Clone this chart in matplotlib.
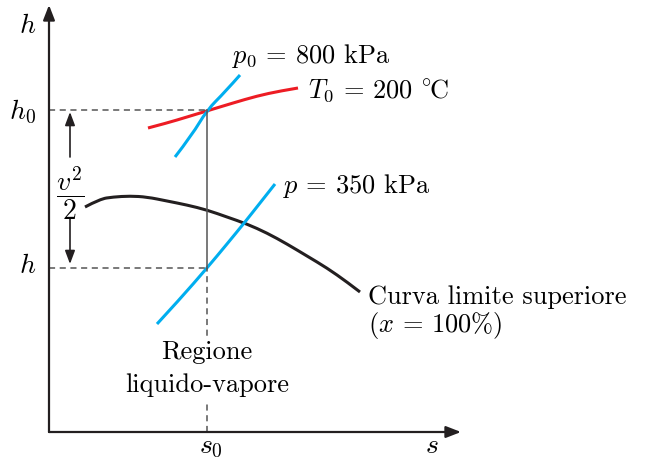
import matplotlib
matplotlib.use("Agg")
import matplotlib.pyplot as plt
from matplotlib.path import Path
from matplotlib.patches import PathPatch

plt.rcParams['font.family'] = ['cmr10', 'DejaVu Serif']
plt.rcParams['mathtext.fontset'] = 'cm'
plt.rcParams['axes.unicode_minus'] = False

# ---- data (schematic h-s diagram, arbitrary units) ----
s0 = 158          # entropy of the state
h0 = 322          # stagnation enthalpy
h1 = 164          # static enthalpy

# saturated vapour line (x = 100%)
sat_s = [36, 51, 64, 81, 98, 118, 138, 158, 178, 198, 218, 238, 258, 278, 298, 311]
sat_h = [225, 233, 235, 236, 235, 231, 227, 222, 215, 208, 199, 188, 176, 164, 150, 140]

# isotherm T0 = 200 °C
t0_s = [99, 118, 138, 161, 184, 208, 231, 249]
t0_h = [304, 309, 315, 322, 329, 336, 341, 344]

# isobar p0 = 800 kPa
p0_s = [126, 143, 158, 176, 191]
p0_h = [275, 297, 322, 340, 357]

# isobar p = 350 kPa
p_s = [108, 131, 158, 178, 196, 211, 226]
p_h = [108, 133, 164, 188, 210, 229, 248]

s_max = 412
h_max = 427

BLUE = '#00aeef'
RED = '#ed1c24'
BLACK = '#231f20'
GRAY = '#555555'
FS = 19


def smooth_curve(ax, xs, ys, **kw):
    """Draw a smooth quadratic-Bezier path guided by the data points."""
    pts = list(zip(xs, ys))
    verts = [pts[0]]
    codes = [Path.MOVETO]
    for i in range(1, len(pts) - 1):
        mid = ((pts[i][0] + pts[i + 1][0]) / 2, (pts[i][1] + pts[i + 1][1]) / 2)
        if i == len(pts) - 2:
            mid = pts[-1]
        verts += [pts[i], mid]
        codes += [Path.CURVE3, Path.CURVE3]
    patch = PathPatch(Path(verts, codes), fill=False, capstyle='butt', **kw)
    ax.add_patch(patch)


fig = plt.figure(figsize=(6.48, 4.62), dpi=100)
ax = fig.add_axes([0, 0, 1, 1])
ax.set_xlim(-49, 599)
ax.set_ylim(-30, 432)
ax.axis('off')

# axes with arrows
ax.annotate('', xy=(0, h_max), xytext=(0, 0),
            arrowprops=dict(arrowstyle='-|>,head_length=0.9,head_width=0.35',
                            lw=1.6, color=BLACK, shrinkA=0, shrinkB=0))
ax.annotate('', xy=(s_max, 0), xytext=(0, 0),
            arrowprops=dict(arrowstyle='-|>,head_length=0.9,head_width=0.35',
                            lw=1.6, color=BLACK, shrinkA=0, shrinkB=0))

# reference lines
ax.plot([0, s0], [h0, h0], ls=(0, (4, 3)), lw=1.1, color=GRAY)
ax.plot([0, s0], [h1, h1], ls=(0, (4, 3)), lw=1.1, color=GRAY)
ax.plot([s0, s0], [h1, h0], ls='-', lw=1.1, color=GRAY)
ax.plot([s0, s0], [0, h1], ls=(0, (4, 3)), lw=1.1, color=GRAY)

# curves
smooth_curve(ax, sat_s, sat_h, edgecolor=BLACK, lw=2.2)
smooth_curve(ax, t0_s, t0_h, edgecolor=RED, lw=2.2)
smooth_curve(ax, p0_s, p0_h, edgecolor=BLUE, lw=2.2)
smooth_curve(ax, p_s, p_h, edgecolor=BLUE, lw=2.2)

# v^2/2 arrows
ax.annotate('', xy=(21, 320), xytext=(21, 275),
            arrowprops=dict(arrowstyle='-|>,head_length=0.8,head_width=0.3',
                            lw=1.2, color=BLACK, shrinkA=0, shrinkB=0))
ax.annotate('', xy=(21, 168), xytext=(21, 214),
            arrowprops=dict(arrowstyle='-|>,head_length=0.8,head_width=0.3',
                            lw=1.2, color=BLACK, shrinkA=0, shrinkB=0))
ax.text(21, 239, r'$\dfrac{v^2}{2}$', ha='center', va='center', fontsize=FS + 1)

# labels
ax.text(-21, 399, r'$h$', ha='center', va='baseline', fontsize=FS + 1)
ax.text(-13, 313, r'$h_0$', ha='right', va='baseline', fontsize=FS + 1)
ax.text(-21, 159, r'$h$', ha='center', va='baseline', fontsize=FS + 1)
ax.text(162, -21, r'$s_0$', ha='center', va='baseline', fontsize=FS + 1)
ax.text(383, -21, r'$s$', ha='center', va='baseline', fontsize=FS + 1)

ax.text(183, 369, r'$p_0$ = 800 kPa', ha='left', va='baseline', fontsize=FS)
ax.text(259, 334, r'$T_0$ = 200 $^{\circ}\!$C', ha='left', va='baseline', fontsize=FS)
ax.text(234, 239, r'$p$ = 350 kPa', ha='left', va='baseline', fontsize=FS)
ax.text(319, 128, 'Curva limite superiore', ha='left', va='baseline', fontsize=FS)
ax.text(319, 100, r'($x$ = 100%)', ha='left', va='baseline', fontsize=FS)
box = dict(boxstyle='square,pad=0.15', facecolor='white', edgecolor='none')
ax.text(158, 73, 'Regione', ha='center', va='baseline', fontsize=FS, bbox=box)
ax.text(158, 40, 'liquido-vapore', ha='center', va='baseline', fontsize=FS, bbox=box)

fig.savefig('out.png', dpi=100)
